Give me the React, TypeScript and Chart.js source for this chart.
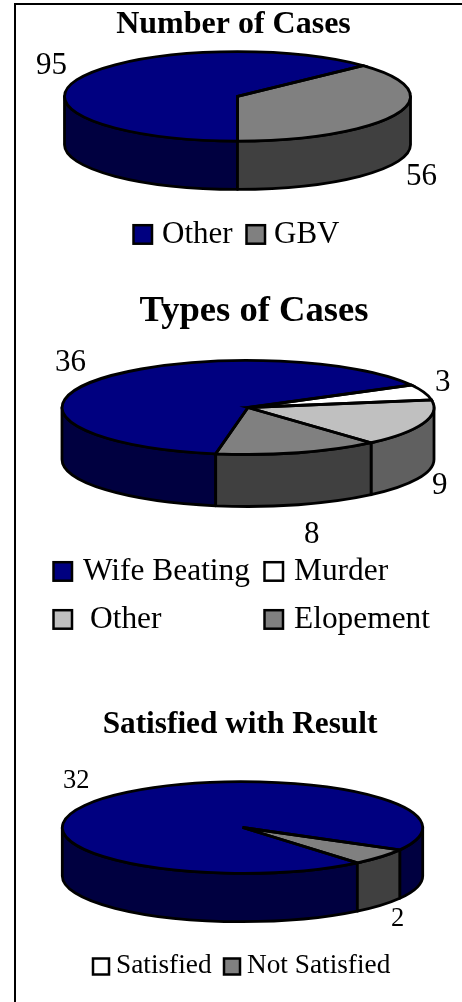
import React, { useEffect, useRef } from "react";
import { Chart, registerables } from "chart.js";

Chart.register(...registerables);

const FONT = '"Liberation Serif", "Times New Roman", serif';

const caseLabels = ["Other", "GBV"];
const caseValues = [95, 56];
const typeLabels = ["Wife Beating", "Murder", "Other", "Elopement"];
const typeValues = [36, 3, 9, 8];
const satisfiedLabels = ["Satisfied", "Not Satisfied"];
const satisfiedValues = [32, 2];

const NAVY = "#000080";
const GREY = "#808080";

const chartConfigs = [
  {
    title: "Number of Cases",
    labels: caseLabels,
    values: caseValues,
    colors: [NAVY, GREY],
    walls: ["#000040", "#404040"],
    legendColors: [NAVY, GREY],
    rotation: 180,
    top: 0,
    height: 280,
    titleSize: 32,
    titlePadTop: 5.5,
    titleShift: 5,
    cx: 237.5, cy: 96.4, rx: 173, ry: 44.7, depth: 48.3,
    labelSize: 31,
    valuePos: [[36, 74], [406, 185]],
    legendSize: 31,
    legendBox: 18.5,
    legendPos: [[133.5, 225.2, 162, 243], [246.5, 225.2, 274, 243]],
  },
  {
    title: "Types of Cases",
    labels: typeLabels,
    values: typeValues,
    colors: [NAVY, "#FFFFFF", "#C0C0C0", GREY],
    walls: ["#000040", "#FFFFFF", "#606060", "#404040"],
    legendColors: [NAVY, "#FFFFFF", "#C0C0C0", GREY],
    rotation: 190,
    top: 280,
    height: 390,
    titleSize: 36.6,
    titlePadTop: 10,
    titleShift: 46,
    cx: 248, cy: 407.5, rx: 186, ry: 47, depth: 52,
    labelSize: 31,
    valuePos: [[55, 371], [435, 391], [432, 494], [304, 543]],
    legendSize: 31.4,
    legendBox: 18.5,
    legendPos: [[53.5, 562.2, 83, 580], [264.5, 562.2, 294, 580], [53.5, 610.2, 90, 628], [264.5, 610.2, 294, 628]],
  },
  {
    title: "Satisfied with Result",
    labels: satisfiedLabels,
    values: satisfiedValues,
    colors: [NAVY, GREY],
    walls: ["#000040", "#404040"],
    legendColors: ["#FFFFFF", GREY],
    rotation: 140.4,
    top: 670,
    height: 332,
    titleSize: 31.3,
    titlePadTop: 36,
    titleShift: 18,
    cx: 242.5, cy: 827.5, rx: 180.2, ry: 45.8, depth: 48.4,
    labelSize: 26.5,
    valuePos: [[63, 788], [391, 926]],
    legendSize: 27.3,
    legendBox: 16,
    legendPos: [[93, 958.5, 116, 973], [224, 958.5, 247, 973]],
  },
];

const LINE = 2.8;

const flatPie = {
  id: "flatPie",
  beforeDatasetsDraw(chart: any, _args: any, o: any) {
    const ctx = chart.ctx;
    const arcs = chart.getDatasetMeta(0).data;
    ctx.save();
    ctx.translate(0, -o.top);
    ctx.lineWidth = LINE;
    ctx.strokeStyle = "#000";
    ctx.lineJoin = "round";
    arcs.forEach((arc: any, i: number) => {
      const T = Math.PI * 2;
      for (let k = -1; k <= 2; k++) {
        const a = Math.max(arc.startAngle, k * T);
        const b = Math.min(arc.endAngle, k * T + Math.PI);
        if (b <= a) continue;
        ctx.beginPath();
        ctx.ellipse(o.cx, o.cy, o.rx, o.ry, 0, a, b);
        ctx.ellipse(o.cx, o.cy + o.depth, o.rx, o.ry, 0, b, a, true);
        ctx.closePath();
        ctx.fillStyle = o.walls[i];
        ctx.fill();
        ctx.stroke();
      }
    });
    ctx.restore();
    const first = arcs[0];
    ctx.save();
    ctx.translate(o.cx, o.cy - o.top);
    ctx.scale(1, o.ry / o.rx);
    ctx.translate(-first.x, -first.y);
  },
  afterDatasetsDraw(chart: any, _args: any, o: any) {
    const ctx = chart.ctx;
    ctx.restore();
    const arcs = chart.getDatasetMeta(0).data;
    ctx.save();
    ctx.translate(0, -o.top);
    ctx.lineWidth = LINE;
    ctx.strokeStyle = "#000";
    ctx.lineJoin = "miter";
    arcs.forEach((arc: any) => {
      ctx.beginPath();
      ctx.moveTo(o.cx, o.cy);
      ctx.ellipse(o.cx, o.cy, o.rx, o.ry, 0, arc.startAngle, arc.endAngle);
      ctx.closePath();
      ctx.stroke();
    });
    ctx.restore();
  },
  afterDraw(chart: any, _args: any, o: any) {
    const ctx = chart.ctx;
    const values = chart.data.datasets[0].data;
    ctx.save();
    ctx.translate(0, -o.top);
    ctx.textBaseline = "alphabetic";
    ctx.textAlign = "left";
    ctx.fillStyle = "#000";
    ctx.font = `${o.labelSize}px ${FONT}`;
    values.forEach((v: number, i: number) => {
      ctx.fillText(String(v), o.valuePos[i][0], o.valuePos[i][1]);
    });
    ctx.font = `${o.legendSize}px ${FONT}`;
    chart.data.labels.forEach((label: string, i: number) => {
      const [bx, by, tx, ty] = o.legendPos[i];
      ctx.fillStyle = o.legendColors[i];
      ctx.fillRect(bx, by, o.legendBox, o.legendBox);
      ctx.strokeStyle = "#000";
      ctx.lineWidth = 2.5;
      ctx.strokeRect(bx, by, o.legendBox, o.legendBox);
      ctx.fillStyle = "#000";
      ctx.fillText(label, tx, ty);
    });
    ctx.restore();
  },
};

function PieCanvas({ cfg }: { cfg: (typeof chartConfigs)[number] }) {
  const ref = useRef<HTMLCanvasElement>(null);
  useEffect(() => {
    const chart = new Chart(ref.current as HTMLCanvasElement, {
      type: "pie",
      data: {
        labels: cfg.labels,
        datasets: [
          {
            data: cfg.values,
            backgroundColor: cfg.colors,
            borderWidth: 0,
            clip: false,
          } as any,
        ],
      },
      options: {
        responsive: false,
        animation: false,
        events: [],
        rotation: cfg.rotation,
        radius: cfg.rx,
        layout: { padding: { left: cfg.titleShift } },
        plugins: {
          legend: { display: false },
          tooltip: { enabled: false },
          title: {
            display: true,
            text: cfg.title,
            color: "#000",
            font: { family: FONT, size: cfg.titleSize, weight: "bold" },
            padding: { top: cfg.titlePadTop, bottom: 0 },
          },
          flatPie: cfg,
        },
      } as any,
      plugins: [flatPie],
    });
    return () => chart.destroy();
  }, [cfg]);
  return (
    <canvas
      ref={ref}
      width={462}
      height={cfg.height}
      style={{ position: "absolute", left: 0, top: cfg.top, width: 462, height: cfg.height }}
    />
  );
}

export default function App() {
  return (
    <div style={{ position: "absolute", left: 0, top: 0, width: 462, height: 1002, overflow: "hidden", background: "#fff" }}>
      <div style={{ position: "absolute", left: 14, top: 3, right: 0, bottom: 0, borderLeft: "2px solid #000", borderTop: "2px solid #000" }} />
      {chartConfigs.map((cfg) => (
        <PieCanvas key={cfg.title} cfg={cfg} />
      ))}
    </div>
  );
}
